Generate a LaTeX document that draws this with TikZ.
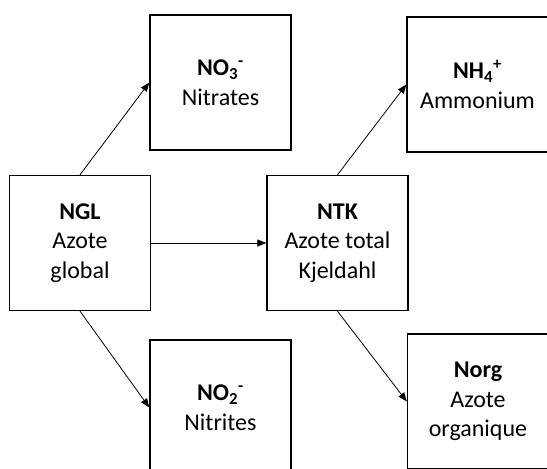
\documentclass[tikz,border=0pt]{standalone}
\usepackage{fontspec}
\setmainfont{Carlito}
\usetikzlibrary{arrows.meta}
\begin{document}
\begin{tikzpicture}[x=1pt,y=-1pt,
  box/.style={draw=black,line width=1.4pt,minimum width=141pt,minimum height=135pt,
    inner sep=0pt,align=center,font=\fontsize{24}{29.5}\selectfont},
  conn/.style={line width=0.8pt,-{Triangle[length=9pt,width=7pt]}}]
\useasboundingbox (0,0) rectangle (547,469);
\clip (0,0) rectangle (547,469);
\node[box] (ngl) at (80,243) {\textbf{NGL}\\Azote\\global};
\node[box] (no3) at (220.5,82.5) {\textbf{NO\textsubscript{3}\textsuperscript{-}}\\Nitrates};
\node[box] (no2) at (220.5,407.5) {\textbf{NO\textsubscript{2}\textsuperscript{-}}\\Nitrites};
\node[box] (ntk) at (337.5,243) {\textbf{NTK}\\Azote total\\Kjeldahl};
\node[box] (nh4) at (477.5,84.5) {\textbf{NH\textsubscript{4}\textsuperscript{+}}\\Ammonium};
\node[box] (norg) at (478,401.5) {\textbf{Norg}\\Azote\\organique};
\draw[conn] (ngl.north) -- (no3.west);
\draw[conn] (ngl.south) -- (no2.west);
\draw[conn] (ngl.east) -- (ntk.west);
\draw[conn] (ntk.north) -- (nh4.west);
\draw[conn] (ntk.south) -- (norg.west);
\end{tikzpicture}
\end{document}
